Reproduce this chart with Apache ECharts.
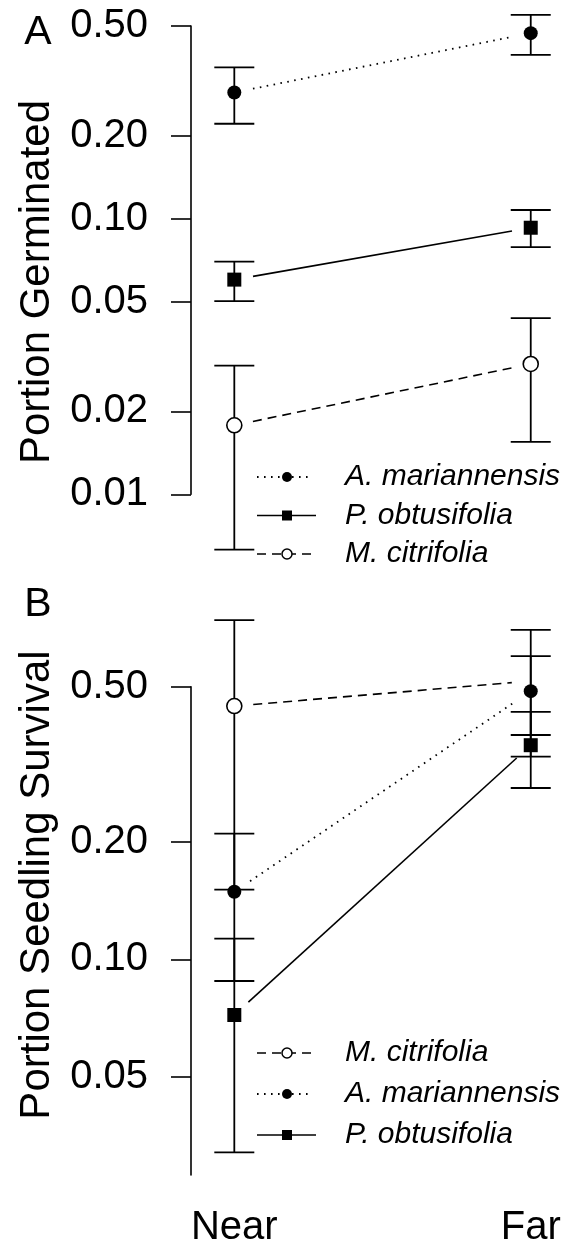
<!DOCTYPE html>
<html>
<head>
<meta charset="utf-8">
<script src="https://cdn.jsdelivr.net/npm/echarts@6/dist/echarts.min.js"></script>
<style>
  html, body { margin: 0; padding: 0; background: #fff; }
  #chart { width: 580px; height: 1249px; }
</style>
</head>
<body>
<div id="chart"></div>
<script>
// ---- data -------------------------------------------------------------
const sites = ['Near', 'Far'];
const sitePos = [1, 2];

// Panel A: portion germinated (mean, lower and upper CI)
const germAmarMean = [0.287, 0.471];
const germAmarLow  = [0.221, 0.393];
const germAmarHigh = [0.354, 0.549];
const germPobtMean = [0.0601, 0.0927];
const germPobtLow  = [0.0502, 0.0788];
const germPobtHigh = [0.0699, 0.1075];
const germMcitMean = [0.0178, 0.0297];
const germMcitLow  = [0.0063, 0.0155];
const germMcitHigh = [0.0293, 0.0436];

// Panel B: portion seedling survival
const survMcitMean = [0.446, 0.517];
const survMcitLow  = [0.151, 0.331];
const survMcitHigh = [0.741, 0.699];
const survAmarMean = [0.149, 0.487];
const survAmarLow  = [0.088, 0.376];
const survAmarHigh = [0.210, 0.599];
const survPobtMean = [0.072, 0.354];
const survPobtLow  = [0.032, 0.275];
const survPobtHigh = [0.113, 0.431];

// y axes (log scale)
const germTicks = [0.01, 0.02, 0.05, 0.10, 0.20, 0.50];
const germTickLabels = ['0.01', '0.02', '0.05', '0.10', '0.20', '0.50'];
const germRange = [0.01, 0.5];
const survTicks = [0.05, 0.10, 0.20, 0.50];
const survTickLabels = ['0.05', '0.10', '0.20', '0.50'];
const survRange = [0.028, 0.5];

const yTitleA = 'Portion Germinated';
const yTitleB = 'Portion Seedling Survival';
const legendOrderA = ['A. mariannensis', 'P. obtusifolia', 'M. citrifolia'];
const legendOrderB = ['M. citrifolia', 'A. mariannensis', 'P. obtusifolia'];

// ---- styles -------------------------------------------------------------
const FONT = '"Liberation Sans", Arial, Helvetica, sans-serif';
const lg = Math.log10;
const styles = {
  'A. mariannensis': { symbol: 'circle', fill: '#000', size: 14, dash: [1.6, 5.4], z: 4 },
  'P. obtusifolia':  { symbol: 'rect',   fill: '#000', size: 14, dash: null,       z: 4 },
  'M. citrifolia':   { symbol: 'circle', fill: '#fff', size: 15, dash: [9, 6],     z: 5 }
};

const panels = [
  {
    grid: { left: 191, top: 26, width: 384.2, height: 468.3 },
    ticks: germTicks, labels: germTickLabels, range: germRange,
    series: {
      'A. mariannensis': [germAmarMean, germAmarLow, germAmarHigh],
      'P. obtusifolia':  [germPobtMean, germPobtLow, germPobtHigh],
      'M. citrifolia':   [germMcitMean, germMcitLow, germMcitHigh]
    }
  },
  {
    grid: { left: 191, top: 686.7, width: 384.2, height: 488.3 },
    ticks: survTicks, labels: survTickLabels, range: survRange,
    series: {
      'A. mariannensis': [survAmarMean, survAmarLow, survAmarHigh],
      'P. obtusifolia':  [survPobtMean, survPobtLow, survPobtHigh],
      'M. citrifolia':   [survMcitMean, survMcitLow, survMcitHigh]
    }
  }
];

const CAP = 20;   // half width of error bar caps
const GAP = 19;   // gap left around points by connecting lines

const grids = [], xAxes = [], yAxes = [], series = [];

panels.forEach((p, gi) => {
  grids.push(p.grid);
  xAxes.push({
    type: 'value', gridIndex: gi, min: 0.8539, max: 2.15,
    axisLine: { show: false }, axisTick: { show: false }, splitLine: { show: false },
    axisLabel: {
      show: gi === 1,
      customValues: sitePos,
      formatter: v => sites[sitePos.indexOf(Math.round(v))] || '',
      fontFamily: FONT, fontSize: 40, color: '#000', margin: 33
    }
  });
  yAxes.push({
    type: 'value', gridIndex: gi, min: lg(p.range[0]), max: lg(p.range[1]),
    splitLine: { show: false },
    axisLine: { show: true, lineStyle: { color: '#000', width: 1.6 } },
    axisTick: {
      show: true, inside: false, length: 20,
      customValues: p.ticks.map(lg),
      lineStyle: { color: '#000', width: 1.6 }
    },
    axisLabel: {
      customValues: p.ticks.map(lg),
      formatter: v => {
        let best = 0;
        p.ticks.forEach((t, i) => { if (Math.abs(lg(t) - v) < Math.abs(lg(p.ticks[best]) - v)) best = i; });
        return p.labels[best];
      },
      fontFamily: FONT, fontSize: 40, color: '#000', margin: 43
    }
  });

  Object.keys(p.series).forEach(name => {
    const [mean, low, high] = p.series[name];
    const st = styles[name];

    // connecting line between the two sites, broken around the points
    series.push({
      type: 'custom', xAxisIndex: gi, yAxisIndex: gi, clip: false, z: 2, silent: true,
      data: [[sitePos[0], lg(mean[0]), sitePos[1], lg(mean[1])]],
      renderItem: (params, api) => {
        const a = api.coord([api.value(0), api.value(1)]);
        const b = api.coord([api.value(2), api.value(3)]);
        const dx = b[0] - a[0], dy = b[1] - a[1];
        const len = Math.sqrt(dx * dx + dy * dy);
        const ux = dx / len, uy = dy / len;
        return {
          type: 'line',
          shape: { x1: a[0] + ux * GAP, y1: a[1] + uy * GAP, x2: b[0] - ux * GAP, y2: b[1] - uy * GAP },
          style: { stroke: '#000', lineWidth: st.dash && st.dash[0] < 2 ? 1.8 : 1.6, lineDash: st.dash || null, fill: null }
        };
      }
    });

    // error bars
    series.push({
      type: 'custom', xAxisIndex: gi, yAxisIndex: gi, clip: false, z: 3, silent: true,
      data: sitePos.map((x, i) => [x, lg(low[i]), lg(high[i])]),
      renderItem: (params, api) => {
        const lo = api.coord([api.value(0), api.value(1)]);
        const hi = api.coord([api.value(0), api.value(2)]);
        const s = { stroke: '#000', lineWidth: 1.8, fill: null };
        return {
          type: 'group',
          children: [
            { type: 'line', shape: { x1: lo[0], y1: lo[1], x2: hi[0], y2: hi[1] }, style: s },
            { type: 'line', shape: { x1: lo[0] - CAP, y1: lo[1], x2: lo[0] + CAP, y2: lo[1] }, style: s },
            { type: 'line', shape: { x1: hi[0] - CAP, y1: hi[1], x2: hi[0] + CAP, y2: hi[1] }, style: s }
          ]
        };
      }
    });

    // points
    series.push({
      type: 'scatter', name: name, xAxisIndex: gi, yAxisIndex: gi, z: st.z, silent: true,
      symbol: st.symbol, symbolSize: st.size,
      itemStyle: { color: st.fill, borderColor: '#000', borderWidth: st.fill === '#fff' ? 1.6 : 0, opacity: 1 },
      data: sitePos.map((x, i) => [x, lg(mean[i])])
    });
  });
});

// ---- legends, panel letters and y titles -----------------------------
function legendGroup(order, y0, step) {
  const els = [];
  order.forEach((name, i) => {
    const st = styles[name];
    const y = y0 + i * step;
    const x1 = 257, x2 = st.dash ? (st.dash[0] < 2 ? 308 : 312) : 316, xm = 287;
    els.push({
      type: 'line', shape: { x1: x1, y1: y, x2: x2, y2: y },
      style: { stroke: '#000', lineWidth: st.dash && st.dash[0] < 2 ? 1.8 : 1.6, lineDash: st.dash || null }
    });
    if (st.symbol === 'rect') {
      els.push({ type: 'rect', shape: { x: xm - 5, y: y - 5, width: 10, height: 10 }, style: { fill: '#000' } });
    } else {
      els.push({ type: 'circle', shape: { cx: xm, cy: y, r: 5 },
        style: { fill: st.fill, stroke: '#000', lineWidth: st.fill === '#fff' ? 1.5 : 0 } });
    }
    els.push({
      type: 'text', x: 345, y: y,
      style: { text: name, font: 'italic 30px ' + FONT, fill: '#000', textAlign: 'left', textVerticalAlign: 'middle' }
    });
  });
  return els;
}

const graphics = [
  { type: 'text', x: 38, y: 33, style: { text: 'A', font: '41px ' + FONT, fill: '#000', textAlign: 'center', textVerticalAlign: 'middle' } },
  { type: 'text', x: 38, y: 605, style: { text: 'B', font: '41px ' + FONT, fill: '#000', textAlign: 'center', textVerticalAlign: 'middle' } },
  { type: 'text', x: 37, y: 282, rotation: Math.PI / 2,
    style: { text: yTitleA, font: '42px ' + FONT, fill: '#000', textAlign: 'center', textVerticalAlign: 'middle' } },
  { type: 'text', x: 37, y: 885, rotation: Math.PI / 2,
    style: { text: yTitleB, font: '42px ' + FONT, fill: '#000', textAlign: 'center', textVerticalAlign: 'middle' } }
].concat(legendGroup(legendOrderA, 477, 38.5), legendGroup(legendOrderB, 1053, 41));

const chart = echarts.init(document.getElementById('chart'), null, { renderer: 'canvas' });
chart.setOption({
  animation: false,
  backgroundColor: '#fff',
  grid: grids,
  xAxis: xAxes,
  yAxis: yAxes,
  series: series,
  graphic: graphics
});
</script>
</body>
</html>
